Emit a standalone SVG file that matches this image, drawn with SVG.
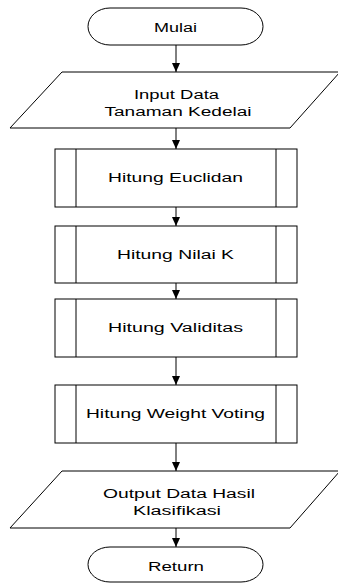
<svg xmlns="http://www.w3.org/2000/svg" width="338" height="583" viewBox="0 0 338 583">
<defs>
<style>
.s{fill:#fff;stroke:#000;stroke-width:1}
.l{fill:none;stroke:#000;stroke-width:1}
.t{font-family:"Liberation Sans",Arial,sans-serif;font-size:12px;fill:#000;text-anchor:middle}
</style>
<marker id="ah" markerUnits="userSpaceOnUse" markerWidth="10" markerHeight="8" refX="9" refY="4" orient="auto">
<path d="M0,0 L9,4 L0,8 Z" fill="#000"/>
</marker>
</defs>
<rect width="338" height="583" fill="#fff"/>
<g id="connectors">
<line class="l" x1="176" y1="45" x2="176" y2="72" marker-end="url(#ah)"/>
<line class="l" x1="176" y1="128" x2="176" y2="149" marker-end="url(#ah)"/>
<line class="l" x1="176" y1="207" x2="176" y2="226" marker-end="url(#ah)"/>
<line class="l" x1="176" y1="283" x2="176" y2="299" marker-end="url(#ah)"/>
<line class="l" x1="176" y1="357" x2="176" y2="385" marker-end="url(#ah)"/>
<line class="l" x1="176" y1="443" x2="176" y2="471" marker-end="url(#ah)"/>
<line class="l" x1="176" y1="528" x2="176" y2="547" marker-end="url(#ah)"/>
</g>
<g id="mulai">
<rect class="s" x="88" y="8" width="175" height="37" rx="22" ry="18.5"/>
<text class="t" x="175.5" y="32" textLength="43" lengthAdjust="spacingAndGlyphs">Mulai</text>
</g>
<g id="input">
<polygon class="s" points="62,72 340,72 290,128 10,128"/>
<text class="t" x="176.5" y="99" textLength="85" lengthAdjust="spacingAndGlyphs">Input Data</text>
<text class="t" x="178" y="115.5" textLength="147" lengthAdjust="spacingAndGlyphs">Tanaman Kedelai</text>
</g>
<g id="euclidan">
<rect class="s" x="55" y="149" width="242" height="58"/>
<line class="l" x1="76" y1="149" x2="76" y2="207"/>
<line class="l" x1="276" y1="149" x2="276" y2="207"/>
<text class="t" x="175.5" y="182" textLength="135" lengthAdjust="spacingAndGlyphs">Hitung Euclidan</text>
</g>
<g id="nilaik">
<rect class="s" x="55" y="226" width="242" height="57"/>
<line class="l" x1="76" y1="226" x2="76" y2="283"/>
<line class="l" x1="276" y1="226" x2="276" y2="283"/>
<text class="t" x="175.5" y="258.5" textLength="117" lengthAdjust="spacingAndGlyphs">Hitung Nilai K</text>
</g>
<g id="validitas">
<rect class="s" x="55" y="299" width="242" height="58"/>
<line class="l" x1="76" y1="299" x2="76" y2="357"/>
<line class="l" x1="276" y1="299" x2="276" y2="357"/>
<text class="t" x="175.5" y="332" textLength="135" lengthAdjust="spacingAndGlyphs">Hitung Validitas</text>
</g>
<g id="weight">
<rect class="s" x="55" y="385" width="242" height="58"/>
<line class="l" x1="76" y1="385" x2="76" y2="443"/>
<line class="l" x1="276" y1="385" x2="276" y2="443"/>
<text class="t" x="175.5" y="417.5" textLength="179" lengthAdjust="spacingAndGlyphs">Hitung Weight Voting</text>
</g>
<g id="output">
<polygon class="s" points="62,471 340,471 290,528 10,528"/>
<text class="t" x="179" y="498" textLength="152" lengthAdjust="spacingAndGlyphs">Output Data Hasil</text>
<text class="t" x="177" y="514.5" textLength="88" lengthAdjust="spacingAndGlyphs">Klasifikasi</text>
</g>
<g id="return">
<rect class="s" x="88" y="547" width="175" height="35" rx="22" ry="17.5"/>
<text class="t" x="176" y="571" textLength="56" lengthAdjust="spacingAndGlyphs">Return</text>
</g>
</svg>
